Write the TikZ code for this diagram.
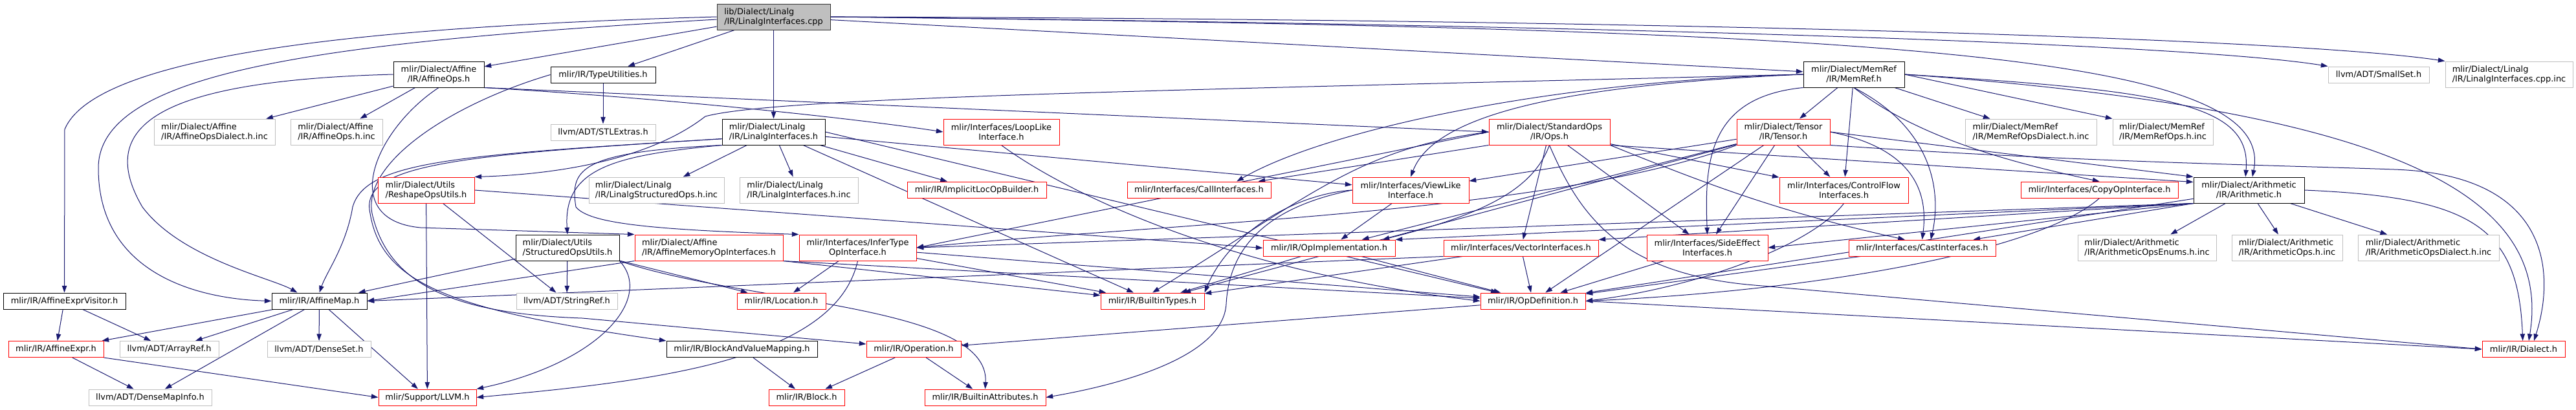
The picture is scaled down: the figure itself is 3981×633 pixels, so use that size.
\documentclass[tikz,border=0pt]{standalone}
\usepackage{fontspec}
\setmainfont{DejaVu Sans}
\usetikzlibrary{arrows.meta,backgrounds}
\definecolor{depblue}{RGB}{25,25,112}
\definecolor{nodocgray}{RGB}{191,191,191}
\definecolor{truncred}{RGB}{255,0,0}

\begin{document}
\begin{tikzpicture}[
  x=0.75pt, y=-0.75pt,
  hfile/.style={rectangle, fill=white, line width=0.75pt, inner sep=0pt, align=center,
                font=\fontsize{9.7}{11.25}\selectfont, minimum height=18.75pt, minimum width=#1*0.75pt},
  docbox/.style={hfile=#1, draw=black},
  redbox/.style={hfile=#1, draw=truncred},
  graybox/.style={hfile=#1, draw=nodocgray},
  rootbox/.style={hfile=#1, draw=black!80, fill=nodocgray},
  tall/.style={minimum height=30pt},
  lft/.style={align=left},
  dep/.style={draw=depblue, line width=0.75pt, -{Triangle[length=8pt, width=5.5pt]}},
]
\useasboundingbox (0,0) rectangle (3981,633);

% Top: the source file and what it includes
\node[rootbox=175, tall, lft] (root) at (1195.5,26) {lib/Dialect/Linalg\\/IR/LinalgInterfaces.cpp};
\node[docbox=140, tall] (affops) at (678,115) {mlir/Dialect/Affine\\/IR/AffineOps.h};
\node[docbox=162] (typeutil) at (932,115.5) {mlir/IR/TypeUtilities.h};
\node[docbox=156, tall] (memref) at (2865,115) {mlir/Dialect/MemRef\\/IR/MemRef.h};
\node[graybox=156] (smallset) at (3676,115.5) {llvm/ADT/SmallSet.h};
\node[graybox=197, tall, lft] (cppinc) at (3877.5,115) {mlir/Dialect/Linalg\\/IR/LinalgInterfaces.cpp.inc};

% Second row
\node[graybox=187, tall, lft] (affdialinc) at (331.5,204) {mlir/Dialect/Affine\\/IR/AffineOpsDialect.h.inc};
\node[graybox=142, tall, lft] (affopsinc) at (520,204) {mlir/Dialect/Affine\\/IR/AffineOps.h.inc};
\node[graybox=162] (stlextras) at (932,204.5) {llvm/ADT/STLExtras.h};
\node[docbox=159, tall, lft] (linalgif) at (1195.5,204) {mlir/Dialect/Linalg\\/IR/LinalgInterfaces.h};
\node[redbox=179, tall] (looplike) at (1547.5,204) {mlir/Interfaces/LoopLike\\Interface.h};
\node[redbox=187, tall] (stdops) at (2394.5,204) {mlir/Dialect/StandardOps\\/IR/Ops.h};
\node[redbox=144, tall] (tensor) at (2756,204) {mlir/Dialect/Tensor\\/IR/Tensor.h};
\node[graybox=203, tall, lft] (memrefdialinc) at (3138.5,204) {mlir/Dialect/MemRef\\/IR/MemRefOpsDialect.h.inc};
\node[graybox=155, tall, lft] (memrefopsinc) at (3342.5,204) {mlir/Dialect/MemRef\\/IR/MemRefOps.h.inc};

% Third row
\node[redbox=149, tall, lft] (reshape) at (658.5,294) {mlir/Dialect/Utils\\/ReshapeOpsUtils.h};
\node[graybox=209, tall, lft] (structinc) at (1014.5,294) {mlir/Dialect/Linalg\\/IR/LinalgStructuredOps.h.inc};
\node[graybox=183, tall, lft] (linalgifinc) at (1234.5,294) {mlir/Dialect/Linalg\\/IR/LinalgInterfaces.h.inc};
\node[redbox=215] (implicitloc) at (1509.5,293.5) {mlir/IR/ImplicitLocOpBuilder.h};
\node[redbox=222] (callif) at (1853,293.5) {mlir/Interfaces/CallInterfaces.h};
\node[redbox=180, tall] (viewlike) at (2180,294) {mlir/Interfaces/ViewLike\\Interface.h};
\node[redbox=199, tall] (cfif) at (2849.5,294) {mlir/Interfaces/ControlFlow\\Interfaces.h};
\node[redbox=243] (copyop) at (3244.5,293.5) {mlir/Interfaces/CopyOpInterface.h};
\node[docbox=171, tall] (arith) at (3475.5,294) {mlir/Dialect/Arithmetic\\/IR/Arithmetic.h};

% Fourth row
\node[docbox=160, tall, lft] (structutils) at (877,383) {mlir/Dialect/Utils\\/StructuredOpsUtils.h};
\node[redbox=229, tall, lft] (affmemop) at (1095.5,383) {mlir/Dialect/Affine\\/IR/AffineMemoryOpInterfaces.h};
\node[redbox=181, tall] (infertype) at (1325.5,383) {mlir/Interfaces/InferType\\OpInterface.h};
\node[redbox=204] (opimpl) at (2054,383.5) {mlir/IR/OpImplementation.h};
\node[redbox=239] (vectorif) at (2350.5,383.5) {mlir/Interfaces/VectorInterfaces.h};
\node[redbox=187, tall] (sideeffect) at (2638.5,383) {mlir/Interfaces/SideEffect\\Interfaces.h};
\node[redbox=227] (castif) at (2970.5,383.5) {mlir/Interfaces/CastInterfaces.h};
\node[graybox=214, tall, lft] (arithenums) at (3318,383) {mlir/Dialect/Arithmetic\\/IR/ArithmeticOpsEnums.h.inc};
\node[graybox=171, tall, lft] (arithopsinc) at (3534.5,383) {mlir/Dialect/Arithmetic\\/IR/ArithmeticOps.h.inc};
\node[graybox=218, tall, lft] (arithdialinc) at (3753,383) {mlir/Dialect/Arithmetic\\/IR/ArithmeticOpsDialect.h.inc};

% Fifth row
\node[docbox=189] (visitor) at (99.5,465.5) {mlir/IR/AffineExprVisitor.h};
\node[docbox=147] (affmap) at (493.5,465.5) {mlir/IR/AffineMap.h};
\node[graybox=156] (stringref) at (876,465.5) {llvm/ADT/StringRef.h};
\node[redbox=137] (location) at (1207.5,465.5) {mlir/IR/Location.h};
\node[redbox=160] (builtintypes) at (1781,465.5) {mlir/IR/BuiltinTypes.h};
\node[redbox=162] (opdef) at (2369,465.5) {mlir/IR/OpDefinition.h};

% Sixth row
\node[redbox=147] (affexpr) at (86.5,540) {mlir/IR/AffineExpr.h};
\node[graybox=153] (arrayref) at (261.5,540) {llvm/ADT/ArrayRef.h};
\node[graybox=160] (denseset) at (493,540) {llvm/ADT/DenseSet.h};
\node[docbox=233] (bavm) at (1146.5,540) {mlir/IR/BlockAndValueMapping.h};
\node[redbox=146] (operation) at (1412,540) {mlir/IR/Operation.h};
\node[redbox=128] (dialect) at (3900,540) {mlir/IR/Dialect.h};

% Bottom row
\node[graybox=190] (densemapinfo) at (232,614.5) {llvm/ADT/DenseMapInfo.h};
\node[redbox=151] (llvmh) at (660.5,614.5) {mlir/Support/LLVM.h};
\node[redbox=117] (block) at (1246.5,614.5) {mlir/IR/Block.h};
\node[redbox=187] (builtinattrs) at (1522.5,614.5) {mlir/IR/BuiltinAttributes.h};

% Include arrows, drawn behind the boxes
\begin{scope}[on background layer]
% from the source file
\draw[dep] (root) -- (affops);
\draw[dep] (root) -- (typeutil);
\draw[dep] (root) -- (linalgif);
\draw[dep] (root) -- (memref);
\draw[dep] (root.west) .. controls (600,40) and (150,80) .. (100,200) -- (visitor);
\draw[dep] ([yshift=-3pt]root.west) .. controls (500,65) and (152,110) .. (152,260) .. controls (152,420) and (300,462) .. (affmap.west);
\draw[dep] (root.east) .. controls (2600,40) and (3400,70) .. (smallset.north west);
\draw[dep] (root.east) .. controls (2600,30) and (3550,60) .. (cppinc.north west);
\draw[dep] (root.east) .. controls (2900,45) and (3520,80) .. ([xshift=4pt]arith.north);

% AffineOps.h
\draw[dep] (affops) -- (affdialinc);
\draw[dep] (affops) -- (affopsinc);
\draw[dep] (affops.west) .. controls (230,125) and (150,200) .. (220,320) .. controls (280,400) and (420,430) .. ([xshift=30pt]affmap.north west);
\draw[dep] (affops.south) .. controls (580,200) and (520,340) .. (650,352) -- (affmemop.north west);
\draw[dep] (affops.south east) .. controls (1000,150) and (1300,180) .. (looplike.west);
\draw[dep] (affops.south east) -- (stdops.west);

% TypeUtilities.h
\draw[dep] (typeutil) -- (stlextras);
\draw[dep] (typeutil.west) .. controls (700,160) and (560,250) .. (575,330) .. controls (600,440) and (700,485) .. (900,492) -- ([yshift=6pt]operation.west);

% LinalgInterfaces.h
\draw[dep] (linalgif) -- (structinc);
\draw[dep] (linalgif) -- (linalgifinc);
\draw[dep] (linalgif) -- (implicitloc);
\draw[dep] (linalgif) -- (builtintypes);
\draw[dep] (linalgif.east) -- (opdef);
\draw[dep] (linalgif) -- (viewlike);
\draw[dep] (linalgif.south west) .. controls (950,240) and (870,260) .. (structutils.north);
\draw[dep] (linalgif.south west) .. controls (900,235) and (880,260) .. (890,320) .. controls (910,345) and (1000,355) .. (infertype.north west);
\draw[dep] ([yshift=-8pt]linalgif.west) .. controls (700,240) and (555,255) .. (572,330) .. controls (590,440) and (700,480) .. (bavm.north west);
\draw[dep] ([yshift=-8pt]linalgif.west) .. controls (700,240) and (565,250) .. (545,320) .. controls (535,380) and (505,420) .. (affmap.north);

% MemRef.h
\draw[dep] (memref) -- (tensor);
\draw[dep] (memref) -- (cfif);
\draw[dep] (memref) -- (memrefdialinc);
\draw[dep] (memref.east) -- (memrefopsinc.north west);
\draw[dep] (memref.south) .. controls (2960,210) and (3100,250) .. (copyop.north);
\draw[dep] (memref.south) .. controls (2990,200) and (3000,300) .. ([xshift=10pt]castif.north);
\draw[dep] (memref.south west) .. controls (2640,150) and (2634,250) .. (sideeffect.north);
\draw[dep] (memref.west) .. controls (2450,130) and (2220,170) .. (viewlike.north);
\draw[dep] (memref.west) .. controls (2400,125) and (2050,200) .. ([xshift=-40pt]callif.north east);
\draw[dep] (memref.west) .. controls (1800,140) and (1200,150) .. (1090,180) .. controls (1000,250) and (850,270) .. (reshape.north east);
\draw[dep] (memref.east) .. controls (3350,140) and (3480,160) .. ([xshift=-4pt]arith.north);
\draw[dep] (memref.east) .. controls (3700,170) and (3945,300) .. ([xshift=6pt]dialect.north);

% Tensor.h
\draw[dep] (tensor) -- (cfif);
\draw[dep] (tensor) -- (sideeffect);
\draw[dep] (tensor) -- (viewlike);
\draw[dep] (tensor) -- (opimpl);
\draw[dep] (tensor) -- (opdef);
\draw[dep] (tensor) -- (builtintypes);
\draw[dep] (tensor.east) -- (arith.north west);
\draw[dep] (tensor.east) .. controls (2960,230) and (2980,300) .. (castif.north);
\draw[dep] (tensor.south west) .. controls (2400,330) and (1800,345) .. (infertype.east);
\draw[dep] (tensor.south east) .. controls (3200,250) and (3500,255) .. (3700,262) .. controls (3940,270) and (3950,420) .. ([xshift=12pt]dialect.north);

% StandardOps Ops.h
\draw[dep] (stdops.south east) -- ([yshift=-6pt]arith.north west);
\draw[dep] (stdops) -- (vectorif);
\draw[dep] (stdops) -- (sideeffect);
\draw[dep] (stdops) -- (cfif);
\draw[dep] (stdops.south east) .. controls (2650,290) and (2760,330) .. ([xshift=-20pt]castif.north);
\draw[dep] (stdops.south) .. controls (2370,290) and (2300,330) .. ([xshift=-15pt]opimpl.north east);
\draw[dep] (stdops.west) .. controls (2100,230) and (2030,300) .. (builtintypes.north);
\draw[dep] (stdops.west) -- (infertype.east);
\draw[dep] (stdops.south west) -- ([xshift=-15pt]callif.north east);
\draw[dep] (stdops.south) .. controls (2440,330) and (2500,420) .. (2700,440) -- (dialect.west);

% Arithmetic.h
\draw[dep] (arith) -- (arithenums);
\draw[dep] (arith) -- (arithopsinc);
\draw[dep] (arith) -- (arithdialinc);
\draw[dep] (arith.south west) -- (castif);
\draw[dep] (arith.south west) -- (sideeffect.east);
\draw[dep] (arith.south west) -- (vectorif.north east);
\draw[dep] (arith.south west) -- (opimpl.north east);
\draw[dep] (arith.south west) -- (infertype.east);
\draw[dep] (arith) -- (opdef);
\draw[dep] (arith.east) .. controls (3820,305) and (3892,350) .. ([xshift=-1pt]dialect.north);

% interfaces
\draw[dep] (cfif.south) .. controls (2800,380) and (2620,445) .. (opdef.east);
\draw[dep] (castif) -- (opdef);
\draw[dep] (sideeffect) -- (opdef);
\draw[dep] (copyop.south) .. controls (3150,390) and (2800,450) .. (opdef.east);
\draw[dep] (looplike.south) .. controls (1650,300) and (1900,420) .. (opdef.west);
\draw[dep] (vectorif) -- (opdef);
\draw[dep] (vectorif) -- (builtintypes);
\draw[dep] (vectorif.south west) -- (affmap.east);
\draw[dep] (viewlike) -- (opimpl);
\draw[dep] (viewlike.west) .. controls (2000,300) and (1900,360) .. (builtintypes.north east);
\draw[dep] (viewlike.west) .. controls (1960,320) and (1900,380) .. (1895,470) .. controls (1890,560) and (1700,600) .. (builtinattrs.east);
\draw[dep] (infertype) -- (location);
\draw[dep] (infertype) -- (builtintypes);
\draw[dep] (infertype) -- (opdef);
\draw[dep] (infertype.south) .. controls (1290,560) and (1000,590) .. (llvmh.east);
\draw[dep] (affmemop.south west) -- (affmap.east);
\draw[dep] (affmemop.south east) -- (opdef);
\draw[dep] (affmemop.south east) -- (builtintypes);

% utils
\draw[dep] (structutils) -- (stringref);
\draw[dep] (structutils) -- (location);
\draw[dep] (structutils) -- (affmap);
\draw[dep] (structutils.south east) .. controls (1010,460) and (930,560) .. (llvmh.north east);
\draw[dep] (structutils.south east) .. controls (1150,470) and (1530,470) .. (builtinattrs.north);
\draw[dep] (reshape) -- (stringref);
\draw[dep] (reshape) -- (llvmh);
\draw[dep] (reshape.east) -- (opimpl.west);

% IR core
\draw[dep] (opimpl) -- (opdef);
\draw[dep] (opimpl) -- (builtintypes);
\draw[dep] (opdef) -- (operation);
\draw[dep] (opdef.east) -- (dialect.west);
\draw[dep] (operation) -- (block);
\draw[dep] (operation) -- (builtinattrs);
\draw[dep] (bavm) -- (block);
\draw[dep] (affmap) -- (affexpr);
\draw[dep] (affmap) -- (arrayref);
\draw[dep] (affmap) -- (denseset);
\draw[dep] (affmap) -- (densemapinfo);
\draw[dep] (affmap) -- (llvmh);
\draw[dep] (affexpr) -- (densemapinfo);
\draw[dep] (affexpr.south east) -- (llvmh.west);
\draw[dep] (visitor) -- (affexpr);
\draw[dep] (visitor) -- (arrayref);
\end{scope}
\end{tikzpicture}
\end{document}
